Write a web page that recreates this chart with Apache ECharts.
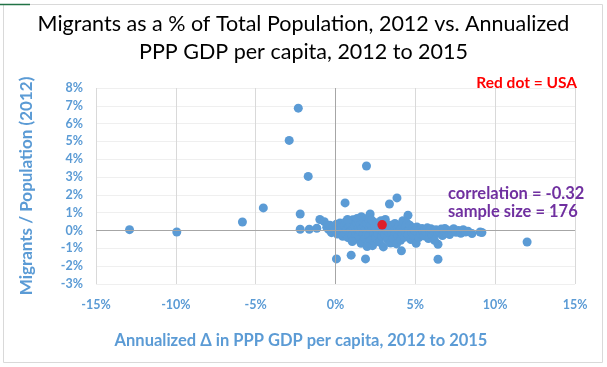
<!DOCTYPE html>
<html><head><meta charset="utf-8">
<script src="https://cdn.jsdelivr.net/npm/echarts@6/dist/echarts.min.js"></script>
<style>html,body{margin:0;padding:0;background:#fff}#c{width:607px;height:367px}</style>
</head><body><div id="c"></div>
<script>
const titleLines = ['Migrants as a % of Total Population, 2012 vs. Annualized', 'PPP GDP per capita, 2012 to 2015'];
const xName = 'Annualized \u0394 in PPP GDP per capita, 2012 to 2015';
const yName = 'Migrants / Population (2012)';
const xTicks = [-15, -10, -5, 0, 5, 10, 15];
const yTicks = [-3, -2, -1, 0, 1, 2, 3, 4, 5, 6, 7, 8];
const notes = ['Red dot = USA', 'correlation = -0.32', 'sample size = 176'];
// [GDP growth %, migrants %]
const outliers = [[-12.9,0.05],[-9.94,-0.08],[-5.83,0.48],[-4.52,1.27],[-2.33,6.87],[-2.9,5.06],[-1.71,3.04],[-2.21,0.93],[-2.21,0.07],[-1.64,0.07],[-1.17,0.13],[-0.98,0.62],[-0.7,0.5],[0.06,-1.59],[0.98,-1.38],[1.88,-1.59],[4.13,-1.14],[6.42,-1.61],[6.42,-0.77],[12.0,-0.64],[1.94,3.62],[0.6,1.55],[3.38,1.49],[3.85,1.83],[2.17,0.93],[4.54,0.86],[9.17,-0.11]];
const cluster = [
[-0.55,0.18],[-0.42,0.05],[-0.35,0.3],[-0.25,-0.12],[-0.15,0.2],[-0.05,0.02],[0.05,0.35],[0.12,-0.2],[0.2,0.1],[0.28,0.42],[0.35,-0.05],[0.4,0.2],[0.45,-0.32],[0.48,0.05],
[0.55,0.28],[0.6,-0.15],[0.65,0.5],[0.7,0.05],[0.78,-0.4],[0.82,0.18],[0.88,-0.08],[0.92,0.38],[0.98,0.0],[1.02,-0.25],[1.08,0.6],[1.12,0.12],[1.18,-0.5],[1.22,0.25],[1.28,-0.1],[1.32,0.45],[1.38,0.02],[1.42,-0.3],[1.45,0.15],[0.75,0.62],[1.05,-0.62],[1.35,0.68],
[1.52,-0.05],[1.55,0.35],[1.6,-0.72],[1.65,0.1],[1.7,0.55],[1.75,-0.2],[1.8,0.22],[1.85,-0.45],[1.9,0.05],[1.95,0.4],[2.0,-0.1],[2.02,0.7],[2.08,-0.3],[2.12,0.15],[2.18,-0.58],[2.22,0.32],[2.28,0.0],[2.32,-0.85],[2.38,0.48],[2.42,-0.18],[2.45,0.2],[1.62,0.78],[2.25,0.6],[1.98,-0.9],
[2.52,-0.4],[2.55,0.1],[2.6,0.42],[2.65,-0.15],[2.7,0.25],[2.75,-0.65],[2.8,0.05],[2.85,0.55],[2.9,-0.3],[2.95,-0.05],[3.0,-0.92],[3.05,0.18],[3.1,-0.22],[3.15,0.38],[3.2,0.0],[3.25,-0.5],[3.3,0.12],[3.35,-0.12],[3.4,0.3],[3.45,-0.7],[3.48,0.05],[3.12,0.62],
[3.52,-0.2],[3.58,0.2],[3.62,-0.45],[3.68,0.02],[3.72,0.4],[3.78,-0.1],[3.82,-0.75],[3.88,0.15],[3.92,-0.3],[3.98,0.3],[4.02,-0.05],[4.08,-0.55],[4.12,0.1],[4.18,-0.2],[4.22,0.55],[4.28,0.0],[4.32,-0.38],[4.38,0.2],[4.42,-0.1],[4.48,0.42],
[4.55,-0.25],[4.6,0.05],[4.65,0.3],[4.72,-0.5],[4.78,-0.1],[4.85,0.15],[4.9,-0.3],[4.98,0.0],[5.05,-0.72],[5.1,0.2],[5.15,-0.15],[5.22,-0.4],[5.28,0.05],[5.35,-0.2],[5.42,0.12],[5.48,-0.05],
[5.55,-0.3],[5.6,0.05],[5.68,-0.12],[5.75,0.15],[5.82,-0.45],[5.9,-0.05],[5.98,0.1],[6.05,-0.25],[6.12,-0.02],[6.2,-0.55],[6.3,0.05],[6.4,-0.15],
[6.55,-0.1],[6.62,0.08],[6.7,-0.28],[6.78,-0.05],[6.85,0.12],[6.95,-0.15],[7.05,0.0],[7.15,-0.22],[7.28,-0.05],[7.4,0.1],
[7.55,-0.1],[7.7,0.0],[7.85,-0.15],[8.0,0.05],[8.15,-0.08],[8.3,-0.04],[8.55,-0.17],[9.06,-0.08]
];
const usa = [[2.92,0.32]];

const blue = '#5b9bd5';
const font = 'Lato, "Open Sans", sans-serif';
const chart = echarts.init(document.getElementById('c'), null, {renderer:'canvas'});
chart.setOption({
  animation:false,
  grid:{left:96, right:32, top:88, height:196},
  title:{text: titleLines.join('\n'), left:'center', top:5,
    textStyle:{fontFamily:font, fontSize:21.5, fontWeight:'normal', color:'#000', lineHeight:28}},
  xAxis:{type:'value', min:xTicks[0], max:xTicks[xTicks.length-1], interval:5,
    axisLine:{show:false}, axisTick:{show:false},
    axisLabel:{margin:14, fontFamily:font, fontSize:12.5, fontWeight:'bold', color:blue, formatter:v=>v+'%'},
    splitLine:{show:true, lineStyle:{color:'#d9d9d9', width:1}}},
  yAxis:{type:'value', min:yTicks[0], max:yTicks[yTicks.length-1], interval:1,
    name:yName, nameLocation:'middle', nameGap:61, nameRotate:90,
    nameTextStyle:{fontFamily:font, fontSize:17, fontWeight:'bold', color:blue},
    axisLine:{show:false}, axisTick:{show:false},
    axisLabel:{margin:13, fontFamily:font, fontSize:12.5, fontWeight:'bold', color:blue, formatter:v=>v+'%'},
    splitLine:{show:true, lineStyle:{color:'#efefef', width:1}}},
  series:[
    {type:'scatter', data: outliers.concat(cluster), symbolSize:9,
     itemStyle:{color:blue, opacity:1},
     markLine:{silent:true, symbol:'none', label:{show:false},
       lineStyle:{color:'#a6a6a6', type:'solid', width:1},
       data:[{xAxis:0},{yAxis:0}]}, z:2},
    {type:'scatter', data: usa, symbolSize:9.5, itemStyle:{color:'#ff0000'}, z:3}
  ],
  graphic:[
    {type:'rect', shape:{x:3.5, y:4.5, width:599, height:358}, style:{fill:null, stroke:'#d9d9d9', lineWidth:1}, silent:true, z:-1},
    {type:'line', shape:{x1:0, y1:4.5, x2:30, y2:4.5}, style:{stroke:'#217346', lineWidth:1.5}},
    {type:'text', x:301, y:341, z:100, style:{text:xName, fontFamily:font, fontSize:16.5, fontWeight:'bold', fill:blue, textAlign:'center', textVerticalAlign:'middle'}},
    {type:'text', x:577, y:83, z:100, style:{text:notes[0], fontFamily:font, fontSize:15.5, fontWeight:'bold', fill:'#ff0000', textAlign:'right', textVerticalAlign:'middle'}},
    {type:'text', x:448, y:194, z:100, style:{text:notes[1], fontFamily:font, fontSize:16.5, fontWeight:'bold', fill:'#7030a0', textAlign:'left', textVerticalAlign:'middle'}},
    {type:'text', x:448, y:212, z:100, style:{text:notes[2], fontFamily:font, fontSize:16.5, fontWeight:'bold', fill:'#7030a0', textAlign:'left', textVerticalAlign:'middle'}}
  ]
});
</script></body></html>
